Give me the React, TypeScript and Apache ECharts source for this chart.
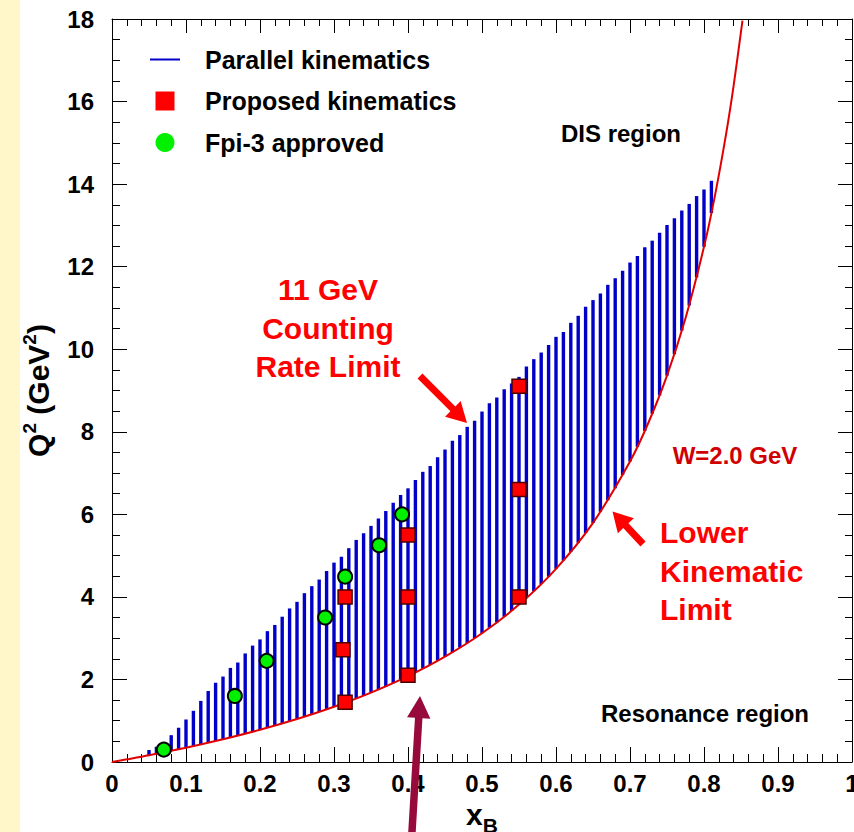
import React, { useEffect, useRef } from 'react';
import * as echarts from 'echarts';

const FONT = 'Liberation Sans';

// Parallel kinematics hatch: x_B and Q2 range of each vertical line
const hatchX = [
  0.05, 0.06, 0.07, 0.08, 0.09,
  0.10, 0.11, 0.12, 0.13, 0.14, 0.15, 0.16, 0.17, 0.18, 0.19,
  0.20, 0.21, 0.22, 0.23, 0.24, 0.25, 0.26, 0.27, 0.28, 0.29,
  0.30, 0.31, 0.32, 0.33, 0.34, 0.35, 0.36, 0.37, 0.38, 0.39,
  0.40, 0.41, 0.42, 0.43, 0.44, 0.45, 0.46, 0.47, 0.48, 0.49,
  0.50, 0.51, 0.52, 0.53, 0.54, 0.55, 0.56, 0.57, 0.58, 0.59,
  0.60, 0.61, 0.62, 0.63, 0.64, 0.65, 0.66, 0.67, 0.68, 0.69,
  0.70, 0.71, 0.72, 0.73, 0.74, 0.75, 0.76, 0.77, 0.78, 0.79,
  0.80, 0.81,
];
const hatchTop = [
  0.29, 0.37, 0.48, 0.65, 0.83,
  1.03, 1.24, 1.48, 1.72, 1.92, 2.07, 2.28, 2.41, 2.63, 2.82,
  2.97, 3.17, 3.32, 3.52, 3.72, 3.88, 4.09, 4.26, 4.42, 4.63,
  4.83, 4.97, 5.18, 5.38, 5.54, 5.72, 5.90, 6.08, 6.28, 6.47,
  6.63, 6.83, 7.03, 7.17, 7.38, 7.57, 7.78, 7.92, 8.12, 8.27,
  8.49, 8.69, 8.83, 9.03, 9.17, 9.33, 9.58, 9.76, 9.92, 10.10,
  10.30, 10.42, 10.64, 10.81, 11.03, 11.19, 11.35, 11.56, 11.72, 11.90,
  12.10, 12.26, 12.47, 12.63, 12.82, 13.01, 13.17, 13.36, 13.52, 13.71,
  13.87, 14.08,
];
const hatchBottom = [
  0.16, 0.20, 0.24, 0.27, 0.31,
  0.35, 0.39, 0.43, 0.47, 0.51, 0.55, 0.59, 0.64, 0.69, 0.73,
  0.78, 0.83, 0.88, 0.93, 0.99, 1.04, 1.10, 1.15, 1.21, 1.27,
  1.34, 1.40, 1.47, 1.54, 1.61, 1.68, 1.76, 1.83, 1.91, 2.00,
  2.08, 2.17, 2.26, 2.35, 2.45, 2.55, 2.66, 2.77, 2.88, 3.00,
  3.12, 3.25, 3.38, 3.52, 3.66, 3.81, 3.97, 4.14, 4.31, 4.49,
  4.68, 4.88, 5.09, 5.31, 5.55, 5.79, 6.06, 6.34, 6.63, 6.95,
  7.28, 7.64, 8.02, 8.44, 8.88, 9.36, 9.88, 10.45, 11.06, 11.74,
  12.48, 13.30,
];

// W = 2.0 GeV lower kinematic limit
const wX = [0, 0.02, 0.05, 0.1, 0.15, 0.2, 0.25, 0.3, 0.35, 0.4, 0.45, 0.5, 0.55, 0.6, 0.65, 0.7, 0.725, 0.75, 0.775, 0.8, 0.815, 0.83, 0.84, 0.852];
const wQ2 = [0, 0.064, 0.164, 0.347, 0.551, 0.78, 1.04, 1.337, 1.68, 2.08, 2.553, 3.12, 3.813, 4.68, 5.794, 7.28, 8.225, 9.36, 10.75, 12.48, 13.74, 15.23, 16.38, 17.96];

// Proposed kinematics
const proposedX = [0.315, 0.312, 0.315, 0.40, 0.40, 0.40, 0.55, 0.55, 0.55];
const proposedQ2 = [1.45, 2.72, 4.0, 2.1, 4.0, 5.5, 4.0, 6.6, 9.1];

// Fpi-3 approved
const fpiX = [0.07, 0.166, 0.209, 0.288, 0.315, 0.361, 0.392];
const fpiQ2 = [0.30, 1.60, 2.45, 3.50, 4.49, 5.25, 6.00];

const seriesNames = ['Parallel kinematics', 'Proposed kinematics', 'Fpi-3 approved'];

function arrow(tail: number[], tip: number[], shaftW: number, headL: number, headW: number) {
  const dx = tip[0] - tail[0];
  const dy = tip[1] - tail[1];
  const L = Math.hypot(dx, dy);
  const ux = dx / L, uy = dy / L;
  const nx = -uy, ny = ux;
  const bx = tip[0] - ux * headL, by = tip[1] - uy * headL;
  const s = shaftW / 2;
  return [
    [tail[0] + nx * s, tail[1] + ny * s],
    [bx + nx * s, by + ny * s],
    [bx + nx * headW, by + ny * headW],
    [tip[0], tip[1]],
    [bx - nx * headW, by - ny * headW],
    [bx - nx * s, by - ny * s],
    [tail[0] - nx * s, tail[1] - ny * s],
  ];
}

const labelStyle = { fontFamily: FONT, fontWeight: 'bold' as const, fontSize: 24, color: '#000' };

function buildOption() {
  const axisCommon = {
    type: 'value' as const,
    axisLine: { show: true, onZero: false, lineStyle: { color: '#000', width: 1 } },
    splitLine: { show: false },
    minorSplitLine: { show: false },
  };
  return {
    animation: false,
    backgroundColor: '#ffffff',
    grid: { left: 112, top: 19, right: 2, bottom: 70, containLabel: false, outerBoundsMode: 'none' },
    legend: {
      orient: 'vertical',
      left: 150,
      top: 47,
      padding: 0,
      itemWidth: 30,
      itemHeight: 19,
      itemGap: 16.5,
      selectedMode: false,
      textStyle: { ...labelStyle, fontSize: 25, lineHeight: 24, padding: [0, 0, 0, 20] },
      data: [
        { name: seriesNames[0], icon: 'path://M0,0 H30 V2 H0 Z' },
        { name: seriesNames[1], icon: 'path://M0,0 H10 V10 H0 Z', itemStyle: { borderWidth: 0 } },
        { name: seriesNames[2], icon: 'circle', itemStyle: { borderWidth: 0 } },
      ],
    },
    xAxis: [
      {
        ...axisCommon,
        position: 'bottom',
        min: 0,
        max: 1,
        interval: 0.1,
        name: '{x|x}{b|B}',
        nameLocation: 'middle',
        nameGap: 32,
        nameTextStyle: {
          rich: {
            x: { fontFamily: FONT, fontWeight: 'bold', fontSize: 30, lineHeight: 36, color: '#000', verticalAlign: 'top' },
            b: { fontFamily: FONT, fontWeight: 'bold', fontSize: 21, lineHeight: 14, color: '#000', verticalAlign: 'bottom' },
          },
        },
        axisTick: { show: true, inside: true, length: 15, lineStyle: { color: '#000', width: 1 } },
        minorTick: { show: true, splitNumber: 5, length: 8, lineStyle: { color: '#000', width: 1 } },
        axisLabel: { ...labelStyle, margin: 9 },
      },
      {
        ...axisCommon,
        position: 'top',
        min: 0,
        max: 1,
        interval: 0.1,
        axisTick: { show: true, inside: true, length: 14, lineStyle: { color: '#000', width: 1 } },
        minorTick: { show: true, splitNumber: 5, length: 7, lineStyle: { color: '#000', width: 1 } },
        axisLabel: { show: false },
      },
    ],
    yAxis: [
      {
        ...axisCommon,
        position: 'left',
        min: 0,
        max: 18,
        interval: 2,
        name: '{q|Q}{s|2}{t| (GeV}{s|2}{t|)}',
        nameLocation: 'middle',
        nameRotate: 90,
        nameGap: 56,
        nameTextStyle: {
          rich: {
            q: { fontFamily: FONT, fontWeight: 'bold', fontSize: 30, lineHeight: 36, color: '#000' },
            t: { fontFamily: FONT, fontWeight: 'bold', fontSize: 30, lineHeight: 36, color: '#000' },
            s: { fontFamily: FONT, fontWeight: 'bold', fontSize: 19, lineHeight: 19, color: '#000', verticalAlign: 'top' },
          },
        },
        axisTick: { show: true, inside: true, length: 15, lineStyle: { color: '#000', width: 1 } },
        minorTick: { show: true, splitNumber: 4, length: 8, lineStyle: { color: '#000', width: 1 } },
        axisLabel: { ...labelStyle, margin: 18 },
      },
      {
        ...axisCommon,
        position: 'right',
        min: 0,
        max: 18,
        interval: 2,
        axisTick: { show: true, inside: true, length: 14, lineStyle: { color: '#000', width: 1 } },
        minorTick: { show: true, splitNumber: 4, length: 7, lineStyle: { color: '#000', width: 1 } },
        axisLabel: { show: false },
      },
    ],
    series: [
      {
        name: seriesNames[0],
        type: 'custom',
        xAxisIndex: 0,
        yAxisIndex: 0,
        itemStyle: { color: '#0000c8' },
        encode: { x: 0, y: [1, 2] },
        data: hatchX.map((x, i) => [x, hatchBottom[i], hatchTop[i]]),
        renderItem: (_params: any, api: any) => {
          const x = api.value(0);
          const p1 = api.coord([x, api.value(1)]);
          const p2 = api.coord([x, api.value(2)]);
          return {
            type: 'line',
            shape: { x1: p1[0], y1: p1[1], x2: p2[0], y2: p2[1] },
            style: { stroke: '#0000c8', lineWidth: 3.4 },
          };
        },
        z: 2,
      },
      {
        name: 'W=2.0 GeV',
        type: 'line',
        xAxisIndex: 0,
        yAxisIndex: 0,
        data: wX.map((x, i) => [x, wQ2[i]]),
        showSymbol: false,
        smooth: 0.3,
        lineStyle: { color: '#e00000', width: 2 },
        itemStyle: { color: '#e00000' },
        z: 3,
      },
      {
        name: seriesNames[1],
        type: 'scatter',
        xAxisIndex: 0,
        yAxisIndex: 0,
        symbol: 'rect',
        symbolSize: 14,
        data: proposedX.map((x, i) => [x, proposedQ2[i]]),
        itemStyle: { color: '#ff0000', borderColor: '#4a0000', borderWidth: 1.5, opacity: 1 },
        z: 4,
      },
      {
        name: seriesNames[2],
        type: 'scatter',
        xAxisIndex: 0,
        yAxisIndex: 0,
        symbol: 'circle',
        symbolSize: 14,
        data: fpiX.map((x, i) => [x, fpiQ2[i]]),
        itemStyle: { color: '#00f000', borderColor: '#000', borderWidth: 2, opacity: 1 },
        z: 5,
      },
    ],
    graphic: [
      { type: 'rect', left: 0, top: 0, z: -10, shape: { width: 20, height: 832 }, style: { fill: '#fff7c9' } },
      {
        type: 'text', x: 621, y: 133, z: 50,
        style: { text: 'DIS region', font: `bold 24px "${FONT}"`, fill: '#000', align: 'center', verticalAlign: 'middle' },
      },
      {
        type: 'text', x: 705, y: 713, z: 50,
        style: { text: 'Resonance region', font: `bold 24px "${FONT}"`, fill: '#000', align: 'center', verticalAlign: 'middle' },
      },
      {
        type: 'text', x: 735, y: 455, z: 50,
        style: { text: 'W=2.0 GeV', font: `bold 24px "${FONT}"`, fill: '#d00000', align: 'center', verticalAlign: 'middle' },
      },
      {
        type: 'text', x: 328, y: 328, z: 50,
        style: {
          text: '11 GeV\nCounting\nRate Limit', font: `bold 30px "${FONT}"`, lineHeight: 38.5,
          fill: '#ff0000', align: 'center', verticalAlign: 'middle',
        },
      },
      {
        type: 'text', x: 660, y: 571, z: 50,
        style: {
          text: 'Lower\nKinematic\nLimit', font: `bold 30px "${FONT}"`, lineHeight: 38.3,
          fill: '#ff0000', align: 'left', verticalAlign: 'middle',
        },
      },
      { type: 'polygon', z: 60, shape: { points: arrow([420, 376], [467, 423], 7, 20, 11) }, style: { fill: '#ff0000' } },
      { type: 'polygon', z: 60, shape: { points: arrow([643, 544], [612.5, 511.5], 7, 19.5, 11) }, style: { fill: '#ff0000' } },
      { type: 'polygon', z: 60, shape: { points: arrow([411.5, 840], [420, 696], 7.5, 22, 11.7) }, style: { fill: '#960a3c' } },
    ],
  };
}

export default function App() {
  const ref = useRef<HTMLDivElement>(null);
  useEffect(() => {
    if (!ref.current) return;
    const chart = echarts.init(ref.current, null, { renderer: 'svg' });
    chart.setOption(buildOption() as any);
    return () => chart.dispose();
  }, []);
  return (
    <div
      ref={ref}
      style={{ position: 'absolute', left: 0, top: 0, width: 854, height: 832, background: '#ffffff' }}
    />
  );
}
